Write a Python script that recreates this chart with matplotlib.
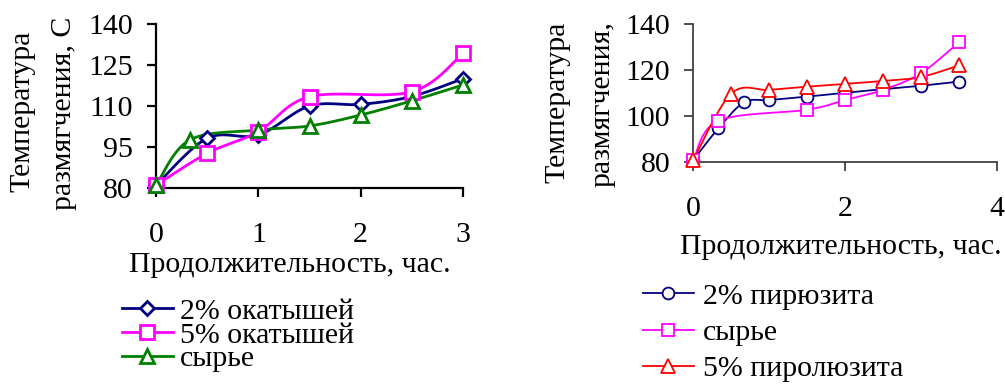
import matplotlib
matplotlib.use('Agg')
import matplotlib.pyplot as plt
import numpy as np

plt.rcParams['font.family'] = ['Liberation Serif', 'DejaVu Serif']

# left chart: окатыши
t_ok2 = [0, 0.5, 1, 1.5, 2, 2.5, 3]
ok2 = [81, 98.2, 99.4, 110, 110.6, 113.5, 120]
t_ok5 = [0, 0.5, 1, 1.5, 2.5, 3]
ok5 = [81, 92.7, 100.6, 113.4, 115.2, 129.3]
t_raw1 = [0, 0.33, 1, 1.5, 2, 2.5, 3]
raw1 = [81, 97.6, 101.2, 102.7, 106.7, 111.9, 117.7]

# right chart: пиролюзит
t_p2 = [0, 0.33, 0.67, 1, 1.5, 2, 2.5, 3, 3.5]
p2 = [81, 94.7, 106, 107, 108.5, 110.2, 111.7, 113.2, 115]
t_raw2 = [0, 0.33, 1.5, 2, 2.5, 3, 3.5]
raw2 = [81, 98, 102.8, 107, 111.4, 118.6, 132]
t_p5 = [0, 0.5, 1, 1.5, 2, 2.5, 3, 3.5]
p5 = [81, 109.8, 111.4, 112.8, 114, 115.3, 117, 122]

W, H = 1005, 385
FS = 21.5


def smooth(x, y, n=30):
    # Excel-style smoothed line (cubic Bezier through the points)
    x = np.asarray(x, float)
    y = np.asarray(y, float)
    P = np.column_stack([x, y])
    out = [P[0]]
    for i in range(len(P) - 1):
        p0 = P[i - 1] if i > 0 else P[i]
        p1 = P[i]
        p2 = P[i + 1]
        p3 = P[i + 2] if i + 2 < len(P) else P[i + 1]
        c1 = p1 + (p2 - p0) / 6
        c2 = p2 - (p3 - p1) / 6
        s = np.linspace(0, 1, n)[1:, None]
        seg = ((1 - s) ** 3) * p1 + 3 * ((1 - s) ** 2) * s * c1 + 3 * (1 - s) * s ** 2 * c2 + s ** 3 * p2
        out.extend(seg)
    out = np.array(out)
    return out[:, 0], out[:, 1]


def series(ax, x, y, color, marker, ms, lw, label):
    sx, sy = smooth(x, y)
    ax.plot(sx, sy, color=color, lw=lw, clip_on=False, zorder=2)
    ax.plot(x, y, ls='none', marker=marker, ms=ms, mfc='white', mec=color,
            mew=lw, clip_on=False, zorder=3)
    return plt.Line2D([], [], color=color, lw=lw, marker=marker, ms=ms,
                      mfc='white', mec=color, mew=lw, label=label)


def style(ax, lw, col):
    for s in ['top', 'right']:
        ax.spines[s].set_visible(False)
    for s in ['left', 'bottom']:
        ax.spines[s].set_linewidth(lw)
        ax.spines[s].set_color(col)
    ax.tick_params(axis='both', direction='out', length=6.5, width=lw,
                   color=col, labelsize=FS)
    ax.tick_params(axis='x', pad=18)
    ax.tick_params(axis='y', pad=10)


fig = plt.figure(figsize=(W / 100, H / 100), dpi=100)

# left
ax1 = fig.add_axes([156 / W, 1 - 188 / H, (463 - 156) / W, (188 - 24) / H])
h1 = series(ax1, t_ok2, ok2, '#000080', 'D', 7, 2, '2% окатышей')
h2 = series(ax1, t_ok5, ok5, '#FF00FF', 's', 9.5, 2, '5% окатышей')
h3 = series(ax1, t_raw1, raw1, '#008000', '^', 9.5, 2, 'сырье')
ax1.set_xlim(0, 3)
ax1.set_ylim(80, 140)
ax1.set_xticks([0, 1, 2, 3])
ax1.set_yticks([80, 95, 110, 125, 140])
style(ax1, 1.6, 'black')
fig.text(22 / W, 1 - 111 / H, 'Температура', rotation=90, ha='center', va='center', fontsize=FS)
fig.text(64 / W, 1 - 113 / H, 'размягчения, С', rotation=90, ha='center', va='center', fontsize=FS)
fig.text(290 / W, 1 - 265 / H, 'Продолжительность, час.', ha='center', va='center', fontsize=FS)
fig.legend(handles=[h1, h2, h3], loc='upper left', bbox_to_anchor=(122 / W, 1 - 298 / H),
           frameon=False, fontsize=FS, handlelength=1.7, handletextpad=0.23,
           labelspacing=-0.11, borderpad=0, borderaxespad=0)

# right
ax2 = fig.add_axes([693.3 / W, 1 - 162.3 / H, (996.7 - 693.3) / W, (162.3 - 24) / H])
g1 = series(ax2, t_p2, p2, '#000080', 'o', 8.5, 1.3, '2% пирюзита')
g2 = series(ax2, t_raw2, raw2, '#FF00FF', 's', 9, 1.3, 'сырье')
g3 = series(ax2, t_p5, p5, '#FF0000', '^', 9.5, 1.3, '5% пиролюзита')
ax2.set_xlim(0, 4)
ax2.set_ylim(80, 140)
ax2.set_xticks([0, 2, 4])
ax2.set_yticks([80, 100, 120, 140])
style(ax2, 1.2, '#333333')
fig.text(557 / W, 1 - 102 / H, 'Температура', rotation=90, ha='center', va='center', fontsize=FS)
fig.text(602 / W, 1 - 104 / H, 'размягчения,', rotation=90, ha='center', va='center', fontsize=FS)
fig.text(841 / W, 1 - 247 / H, 'Продолжительность, час.', ha='center', va='center', fontsize=FS)
fig.legend(handles=[g1, g2, g3], loc='upper left', bbox_to_anchor=(643 / W, 1 - 283 / H),
           frameon=False, fontsize=FS, handlelength=1.7, handletextpad=0.3,
           labelspacing=0.31, borderpad=0, borderaxespad=0)

fig.savefig('out.png', dpi=100, facecolor='white')
